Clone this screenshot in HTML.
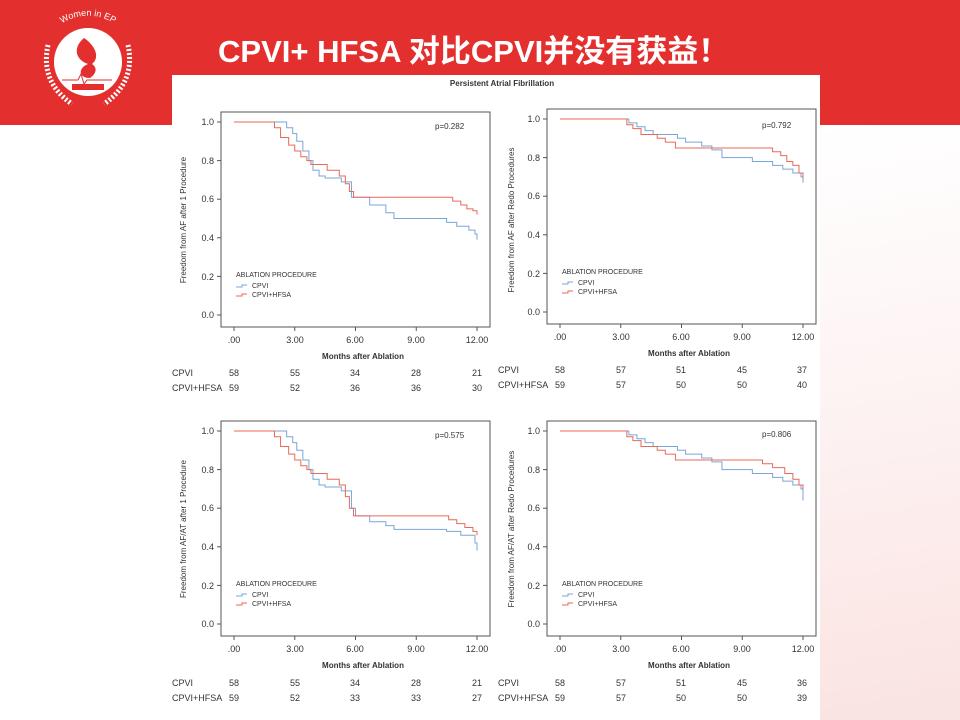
<!DOCTYPE html>
<html><head><meta charset="utf-8"><style>
body{margin:0;width:960px;height:720px;overflow:hidden;background:#fff;position:relative;font-family:"Liberation Sans","Noto Sans CJK SC",sans-serif}
.band{position:absolute;left:0;top:0;width:960px;height:125px;background:#e3302f}
.title{position:absolute;left:218px;top:26px;color:#fff;font-weight:bold;font-size:31px;white-space:nowrap}
.bgdec{position:absolute;right:0;top:125px;width:140px;height:595px;background:linear-gradient(170deg,#fff 0%,#fdf3f3 45%,#fae3e1 100%)}
.fig{position:absolute;left:172px;top:75px;width:648px;height:645px;background:#fff}
</style></head><body>
<div class="band"></div>
<div class="bgdec"></div>
<div class="title">CPVI+ HFSA 对比CPVI并没有获益！</div>
<svg style="position:absolute;left:0;top:0" width="180" height="125">
<path d="M48 45 Q40 82 72 104 M128 45 Q136 82 104 104" stroke="#fff" stroke-width="5" fill="none" stroke-dasharray="2 2"/>
<circle cx="88" cy="62" r="34" fill="#fff"/>
<path d="M42 50 A48 48 0 0 1 134 50" fill="none" id="arc"/>
<text font-size="9" fill="#fff" font-family="Liberation Sans"><textPath href="#arc" startOffset="50%" text-anchor="middle">Women in EP</textPath></text>
<path d="M84 38 C72 48 76 60 88 64 C78 68 78 78 90 78 C96 74 98 68 92 64 C100 58 96 46 84 38Z" fill="#e3302f"/>
<path d="M62 80 H78 L81 74 L84 84 L87 80 H112" stroke="#e3302f" fill="none" stroke-width="1"/>
<rect x="72" y="84" width="32" height="6" fill="#e3302f"/>
</svg>
<div class="fig"></div>
<svg style="position:absolute;left:0;top:0" width="960" height="720" font-family="Liberation Sans" font-size="9" fill="#333">
<text x="502" y="86" text-anchor="middle" font-size="8" font-weight="bold">Persistent Atrial Fibrillation</text>
<defs>
<g id="axes">
<rect x="221" y="112" width="269" height="215" fill="none" stroke="#555" stroke-width="1"/>
<g stroke="#555"><line x1="217" y1="122" x2="221" y2="122"/><line x1="217" y1="160.6" x2="221" y2="160.6"/><line x1="217" y1="199.2" x2="221" y2="199.2"/><line x1="217" y1="237.8" x2="221" y2="237.8"/><line x1="217" y1="276.4" x2="221" y2="276.4"/><line x1="217" y1="315" x2="221" y2="315"/>
<line x1="234" y1="327" x2="234" y2="331"/><line x1="294.75" y1="327" x2="294.75" y2="331"/><line x1="355.5" y1="327" x2="355.5" y2="331"/><line x1="416.25" y1="327" x2="416.25" y2="331"/><line x1="477" y1="327" x2="477" y2="331"/></g>
<g text-anchor="end" font-size="9"><text x="214" y="125">1.0</text><text x="214" y="164">0.8</text><text x="214" y="202">0.6</text><text x="214" y="241">0.4</text><text x="214" y="280">0.2</text><text x="214" y="318">0.0</text></g>
<g text-anchor="middle" font-size="9"><text x="234" y="343">.00</text><text x="295" y="343">3.00</text><text x="355" y="343">6.00</text><text x="416" y="343">9.00</text><text x="477" y="343">12.00</text></g>
<text x="363" y="359" text-anchor="middle" font-size="8" font-weight="bold">Months after Ablation</text>
<text x="236" y="277" font-size="7">ABLATION PROCEDURE</text>
<path d="M236 287 h6 v-2 h5" stroke="#7aa6d6" fill="none"/><text x="252" y="288" font-size="7">CPVI</text>
<path d="M236 296 h6 v-2 h5" stroke="#e8695a" fill="none"/><text x="252" y="297" font-size="7">CPVI+HFSA</text>
</g>
</defs>
<use href="#axes"/>
<text x="186" y="220" transform="rotate(-90 186 220)" text-anchor="middle" font-size="8">Freedom from AF after 1 Procedure</text>
<text x="435" y="129" font-size="8">p=0.282</text>
<g transform="translate(234 315) scale(20.25 -193)" fill="none">
<path vector-effect="non-scaling-stroke" stroke="#7aa6d6" d="M0 1H2.6V0.97H2.9V0.94H3.1V0.9H3.4V0.85H3.7V0.8H3.9V0.75H4.2V0.72H4.5V0.71H5.3V0.69H5.8V0.61H6.7V0.57H7.5V0.53H7.9V0.5H10.5V0.48H11V0.46H11.6V0.44H11.9V0.42H12V0.39"/>
<path vector-effect="non-scaling-stroke" stroke="#e8695a" d="M0 1H2V0.97H2.3V0.92H2.7V0.88H3V0.85H3.3V0.82H3.6V0.8H3.8V0.78H4.6V0.75H5.2V0.72H5.5V0.68H5.7V0.64H5.9V0.61H10.8V0.59H11.2V0.57H11.5V0.55H11.8V0.54H12V0.52"/>
</g>
<text x="172" y="376">CPVI</text><text x="172" y="391">CPVI+HFSA</text>
<g text-anchor="middle"><text x="234" y="376">58</text><text x="295" y="376">55</text><text x="355" y="376">34</text><text x="416" y="376">28</text><text x="477" y="376">21</text>
<text x="234" y="391">59</text><text x="295" y="391">52</text><text x="355" y="391">36</text><text x="416" y="391">36</text><text x="477" y="391">30</text></g>
<g transform="translate(326 -3)"><use href="#axes"/></g>
<text x="514" y="220" transform="rotate(-90 514 220)" text-anchor="middle" font-size="8">Freedom from AF after Redo Procedures</text>
<text x="762" y="128" font-size="8">p=0.792</text>
<g transform="translate(560 312) scale(20.25 -193)" fill="none">
<path vector-effect="non-scaling-stroke" stroke="#7aa6d6" d="M0 1H3.4V0.98H3.8V0.96H4.2V0.94H4.6V0.92H5.8V0.9H6.2V0.88H7V0.86H7.5V0.84H8V0.8H9.5V0.78H10.5V0.76H11V0.74H11.5V0.72H11.9V0.7H12V0.67"/>
<path vector-effect="non-scaling-stroke" stroke="#e8695a" d="M0 1H3.3V0.97H3.6V0.95H4V0.92H4.8V0.9H5.2V0.88H5.7V0.85H10.5V0.83H10.9V0.81H11.2V0.78H11.5V0.76H11.8V0.72H12V0.69"/>
</g>
<text x="498" y="373">CPVI</text><text x="498" y="388">CPVI+HFSA</text>
<g text-anchor="middle"><text x="560" y="373">58</text><text x="621" y="373">57</text><text x="681" y="373">51</text><text x="742" y="373">45</text><text x="802" y="373">37</text>
<text x="560" y="388">59</text><text x="621" y="388">57</text><text x="681" y="388">50</text><text x="742" y="388">50</text><text x="802" y="388">40</text></g>
<g transform="translate(0 309)"><use href="#axes"/></g>
<text x="186" y="529" transform="rotate(-90 186 529)" text-anchor="middle" font-size="8">Freedom from AF/AT after 1 Procedure</text>
<text x="435" y="438" font-size="8">p=0.575</text>
<g transform="translate(234 624) scale(20.25 -193)" fill="none">
<path vector-effect="non-scaling-stroke" stroke="#7aa6d6" d="M0 1H2.6V0.97H2.9V0.94H3.1V0.9H3.4V0.85H3.7V0.8H3.9V0.75H4.2V0.72H4.5V0.71H5.3V0.69H5.8V0.6H6V0.56H6.7V0.53H7.5V0.51H7.9V0.49H10.5V0.48H11.2V0.46H11.9V0.42H12V0.38"/>
<path vector-effect="non-scaling-stroke" stroke="#e8695a" d="M0 1H2V0.97H2.3V0.92H2.7V0.88H3V0.85H3.3V0.82H3.6V0.8H3.8V0.78H4.6V0.75H5.2V0.72H5.5V0.66H5.7V0.6H5.9V0.56H10.6V0.54H11V0.52H11.4V0.5H11.8V0.48H12V0.46"/>
</g>
<text x="172" y="686">CPVI</text><text x="172" y="701">CPVI+HFSA</text>
<g text-anchor="middle"><text x="234" y="686">58</text><text x="295" y="686">55</text><text x="355" y="686">34</text><text x="416" y="686">28</text><text x="477" y="686">21</text>
<text x="234" y="701">59</text><text x="295" y="701">52</text><text x="355" y="701">33</text><text x="416" y="701">33</text><text x="477" y="701">27</text></g>
<g transform="translate(326 309)"><use href="#axes"/></g>
<text x="514" y="529" transform="rotate(-90 514 529)" text-anchor="middle" font-size="8">Freedom from AF/AT after Redo Procedures</text>
<text x="762" y="437" font-size="8">p=0.806</text>
<g transform="translate(560 624) scale(20.25 -193)" fill="none">
<path vector-effect="non-scaling-stroke" stroke="#7aa6d6" d="M0 1H3.4V0.98H3.8V0.96H4.2V0.94H4.6V0.92H5.8V0.9H6.2V0.88H7V0.86H7.5V0.84H8V0.8H9.5V0.78H10.5V0.76H11V0.74H11.5V0.72H11.9V0.7H12V0.64"/>
<path vector-effect="non-scaling-stroke" stroke="#e8695a" d="M0 1H3.3V0.97H3.6V0.95H4V0.92H4.8V0.9H5.2V0.88H5.7V0.85H10V0.83H10.5V0.81H11.1V0.78H11.5V0.75H11.8V0.72H12V0.7"/>
</g>
<text x="498" y="686">CPVI</text><text x="498" y="701">CPVI+HFSA</text>
<g text-anchor="middle"><text x="560" y="686">58</text><text x="621" y="686">57</text><text x="681" y="686">51</text><text x="742" y="686">45</text><text x="802" y="686">36</text>
<text x="560" y="701">59</text><text x="621" y="701">57</text><text x="681" y="701">50</text><text x="742" y="701">50</text><text x="802" y="701">39</text></g>
</svg>
</body></html>
